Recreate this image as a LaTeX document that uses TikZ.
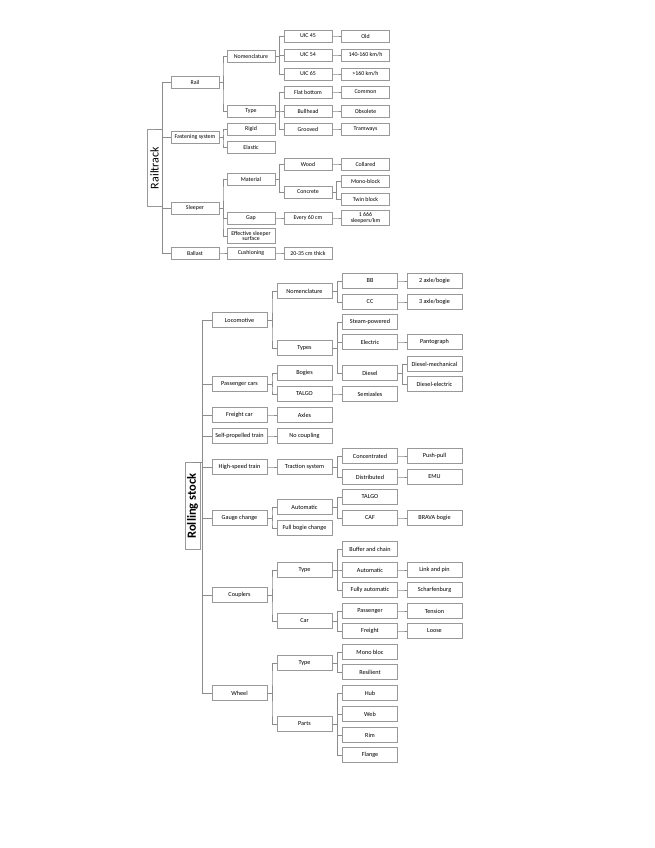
\documentclass[tikz,border=0pt]{standalone}
\usepackage{fontspec}
\setmainfont{Carlito}
\usetikzlibrary{calc}
\tikzset{
  elbow/.style={to path={(\tikztostart.east) -| ($(\tikztostart.east)!0.5!(\tikztotarget.west)$) |- (\tikztotarget.west)}},
  link/.style={draw=black!45, line width=0.8pt, elbow},
  rtbox/.style={draw=black!40, line width=0.9pt, fill=white, minimum width=48pt, minimum height=12pt, inner sep=0.3pt, align=center, font=\fontsize{5.9}{5.9}\selectfont},
  rsbox/.style={draw=black!40, line width=0.9pt, fill=white, minimum width=55pt, minimum height=15pt, inner sep=0.3pt, align=center, font=\fontsize{6.2}{6.5}\selectfont},
  rootbox/.style={draw=black!40, line width=0.9pt, fill=white, rotate=90, minimum height=15pt, inner sep=0pt}
}
\begin{document}
\begin{tikzpicture}[x=1pt, y=-1pt]
\useasboundingbox (0,0) rectangle (655,848);
% railtrack
\node[rootbox, minimum width=77pt, font=\fontsize{12}{12}\selectfont] (rt) at (154.5,168) {Railtrack};
\node[rtbox] (rail) at (195,82) {Rail};
\node[rtbox] (fast) at (195,137) {Fastening system};
\node[rtbox] (sleeper) at (195,208) {Sleeper};
\node[rtbox] (ballast) at (195,253) {Ballast};
\node[rtbox] (railnom) at (251,56) {Nomenclature};
\node[rtbox] (railtype) at (251,111) {Type};
\node[rtbox] (rigid) at (251,129) {Rigid};
\node[rtbox] (elastic) at (251,147) {Elastic};
\node[rtbox] (material) at (251,179) {Material};
\node[rtbox] (gap) at (251,218) {Gap};
\node[rtbox, minimum height=15pt] (effsurf) at (251,236) {Effective sleeper\\surface};
\node[rtbox] (cushion) at (251,253) {Cushioning};
\node[rtbox] (uic45) at (308,36) {UIC 45};
\node[rtbox] (uic54) at (308,55) {UIC 54};
\node[rtbox] (uic65) at (308,74) {UIC 65};
\node[rtbox] (flat) at (308,92) {Flat bottom};
\node[rtbox] (bull) at (308,111) {Bullhead};
\node[rtbox] (groove) at (308,129) {Grooved};
\node[rtbox] (wood) at (308,164) {Wood};
\node[rtbox] (concrete) at (308,192) {Concrete};
\node[rtbox] (every) at (308,218) {Every 60 cm};
\node[rtbox] (thick) at (308,253) {20-35 cm thick};
\node[rtbox] (old) at (365.5,36) {Old};
\node[rtbox] (speedmid) at (365.5,55) {140-160 km/h};
\node[rtbox] (speedhigh) at (365.5,74) {>160 km/h};
\node[rtbox] (common) at (365.5,92) {Common};
\node[rtbox] (obsolete) at (365.5,111) {Obsolete};
\node[rtbox] (tramway) at (365.5,129) {Tramways};
\node[rtbox] (collared) at (365.5,164) {Collared};
\node[rtbox] (monoblock) at (365.5,181) {Mono-block};
\node[rtbox] (twinblock) at (365.5,199) {Twin block};
\node[rtbox, minimum height=15pt] (perkm) at (365.5,218) {1 666\\sleepers/km};
\draw[link] (rt) to (rail) (rt) to (fast) (rt) to (sleeper) (rt) to (ballast);
\draw[link] (rail) to (railnom) (rail) to (railtype);
\draw[link] (fast) to (rigid) (fast) to (elastic);
\draw[link] (sleeper) to (material) (sleeper) to (gap) (sleeper) to (effsurf);
\draw[link] (ballast) to (cushion);
\draw[link] (railnom) to (uic45) (railnom) to (uic54) (railnom) to (uic65);
\draw[link] (railtype) to (flat) (railtype) to (bull) (railtype) to (groove);
\draw[link] (material) to (wood) (material) to (concrete);
\draw[link] (gap) to (every);
\draw[link] (cushion) to (thick);
\draw[link] (uic45) to (old);
\draw[link] (uic54) to (speedmid);
\draw[link] (uic65) to (speedhigh);
\draw[link] (flat) to (common);
\draw[link] (bull) to (obsolete);
\draw[link] (groove) to (tramway);
\draw[link] (wood) to (collared);
\draw[link] (concrete) to (monoblock) (concrete) to (twinblock);
\draw[link] (every) to (perkm);
% rolling stock
\node[rootbox, minimum width=87pt, font=\fontsize{12.5}{12.5}\selectfont\bfseries] (rs) at (192.5,506) {Rolling stock};
\node[rsbox] (loco) at (239.5,320) {Locomotive};
\node[rsbox] (passcars) at (239.5,384) {Passenger cars};
\node[rsbox] (freightcar) at (239.5,415) {Freight car};
\node[rsbox] (selfprop) at (239.5,436) {Self-propelled train};
\node[rsbox] (hst) at (239.5,467) {High-speed train};
\node[rsbox] (gauge) at (239.5,518) {Gauge change};
\node[rsbox] (couplers) at (239.5,595) {Couplers};
\node[rsbox] (wheel) at (239.5,693) {Wheel};
\node[rsbox] (loconom) at (304.5,291) {Nomenclature};
\node[rsbox] (locotypes) at (304.5,348) {Types};
\node[rsbox] (bogies) at (304.5,373) {Bogies};
\node[rsbox] (talgocar) at (304.5,394) {TALGO};
\node[rsbox] (axles) at (304.5,415) {Axles};
\node[rsbox] (nocoupling) at (304.5,436) {No coupling};
\node[rsbox] (traction) at (304.5,467) {Traction system};
\node[rsbox] (autogauge) at (304.5,507) {Automatic};
\node[rsbox] (fullbogie) at (304.5,528) {Full bogie change};
\node[rsbox] (couptype) at (304.5,570) {Type};
\node[rsbox] (coupcar) at (304.5,621) {Car};
\node[rsbox] (wheeltype) at (304.5,663) {Type};
\node[rsbox] (parts) at (304.5,724) {Parts};
\node[rsbox] (bb) at (370,281) {BB};
\node[rsbox] (cc) at (370,302) {CC};
\node[rsbox] (steam) at (370,322) {Steam-powered};
\node[rsbox] (electric) at (370,342) {Electric};
\node[rsbox] (diesel) at (370,373) {Diesel};
\node[rsbox] (semiaxles) at (370,394) {Semiaxles};
\node[rsbox] (concentrated) at (370,456) {Concentrated};
\node[rsbox] (distributed) at (370,477) {Distributed};
\node[rsbox] (talgo) at (370,497) {TALGO};
\node[rsbox] (caf) at (370,518) {CAF};
\node[rsbox] (buffer) at (370,549) {Buffer and chain};
\node[rsbox] (autocoup) at (370,570) {Automatic};
\node[rsbox] (fullyauto) at (370,590) {Fully automatic};
\node[rsbox] (passenger) at (370,611) {Passenger};
\node[rsbox] (freight) at (370,631) {Freight};
\node[rsbox] (monobloc) at (370,652) {Mono bloc};
\node[rsbox] (resilient) at (370,672) {Resilient};
\node[rsbox] (hub) at (370,693) {Hub};
\node[rsbox] (web) at (370,714) {Web};
\node[rsbox] (rim) at (370,735) {Rim};
\node[rsbox] (flange) at (370,755) {Flange};
\node[rsbox] (twoaxle) at (434.5,281) {2 axle/bogie};
\node[rsbox] (threeaxle) at (434.5,302) {3 axle/bogie};
\node[rsbox] (panto) at (434.5,342) {Pantograph};
\node[rsbox] (dmech) at (434.5,364) {Diesel-mechanical};
\node[rsbox] (delec) at (434.5,384) {Diesel-electric};
\node[rsbox] (pushpull) at (434.5,456) {Push-pull};
\node[rsbox] (emu) at (434.5,477) {EMU};
\node[rsbox] (brava) at (434.5,518) {BRAVA bogie};
\node[rsbox] (linkpin) at (434.5,570) {Link and pin};
\node[rsbox] (scharf) at (434.5,590) {Scharfenburg};
\node[rsbox] (tension) at (434.5,611) {Tension};
\node[rsbox] (loose) at (434.5,631) {Loose};
\draw[link] (rs) to (loco) (rs) to (passcars) (rs) to (freightcar) (rs) to (selfprop)
  (rs) to (hst) (rs) to (gauge) (rs) to (couplers) (rs) to (wheel);
\draw[link] (loco) to (loconom) (loco) to (locotypes);
\draw[link] (passcars) to (bogies) (passcars) to (talgocar);
\draw[link] (freightcar) to (axles);
\draw[link] (selfprop) to (nocoupling);
\draw[link] (hst) to (traction);
\draw[link] (gauge) to (autogauge) (gauge) to (fullbogie);
\draw[link] (couplers) to (couptype) (couplers) to (coupcar);
\draw[link] (wheel) to (wheeltype) (wheel) to (parts);
\draw[link] (loconom) to (bb) (loconom) to (cc);
\draw[link] (locotypes) to (steam) (locotypes) to (electric) (locotypes) to (diesel);
\draw[link] (talgocar) to (semiaxles);
\draw[link] (traction) to (concentrated) (traction) to (distributed);
\draw[link] (autogauge) to (talgo) (autogauge) to (caf);
\draw[link] (couptype) to (buffer) (couptype) to (autocoup) (couptype) to (fullyauto);
\draw[link] (coupcar) to (passenger) (coupcar) to (freight);
\draw[link] (wheeltype) to (monobloc) (wheeltype) to (resilient);
\draw[link] (parts) to (hub) (parts) to (web) (parts) to (rim) (parts) to (flange);
\draw[link] (bb) to (twoaxle);
\draw[link] (cc) to (threeaxle);
\draw[link] (electric) to (panto);
\draw[link] (diesel) to (dmech) (diesel) to (delec);
\draw[link] (concentrated) to (pushpull);
\draw[link] (distributed) to (emu);
\draw[link] (caf) to (brava);
\draw[link] (autocoup) to (linkpin);
\draw[link] (fullyauto) to (scharf);
\draw[link] (passenger) to (tension);
\draw[link] (freight) to (loose);
\end{tikzpicture}
\end{document}
